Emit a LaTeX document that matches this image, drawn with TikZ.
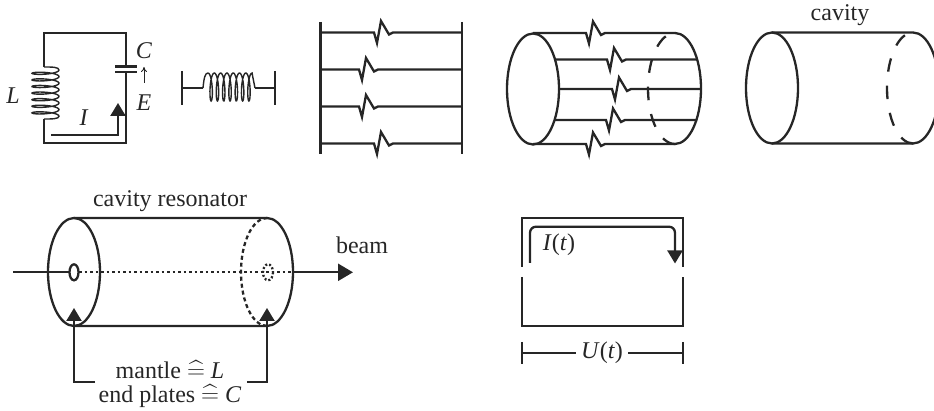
\documentclass[tikz,border=0pt]{standalone}
\usepackage{amsmath}
\usepackage{fontspec}
\setmainfont{Liberation Serif}
\usetikzlibrary{arrows.meta}
\tikzset{
  wire/.style={line width=2.3pt,draw=black!85},
  thinwire/.style={line width=1.4pt,draw=black!85},
  beamline/.style={wire,-{Triangle[length=15pt,width=17pt]}},
  probe/.style={wire,-{Triangle[length=13pt,width=15pt]}},
  label/.style={font=\fontsize{24}{28}\selectfont,inner sep=0pt,text=black!85},
}
% one broken wire: row y, kink starting at x, from x1 to x2
\newcommand{\brokenwire}[4]{%
  \draw[wire,line join=miter] (#2,#1) -- (#3,#1) -- ++(3,10.5) -- ++(4,-22) -- ++(8,13.5) -- ++(4,-2) -- (#4,#1);}
\newcommand{\corresponds}{\smash{$\mathrel{\widehat{=}}$}}
\begin{document}
\begin{tikzpicture}[x=1pt,y=-1pt]
  \useasboundingbox (0,0) rectangle (934,411);
  % LC circuit
  \draw[wire] (44,67) -- (44,33) -- (126,33) -- (126,66);
  \draw[wire] (126,72) -- (126,143) -- (44,143) -- (44,119);
  \draw[thinwire] (44,67) .. controls (52,67) and (59,67) .. (59,70)
    plot[domain=0:2520,samples=170] ({45.5+13.5*cos(\x)},{70+\x/360*6.6+2.5*sin(\x)})
    .. controls (59,119) and (52,119) .. (44,119);
  \draw[wire] (115,66.5) -- (137,66.5);
  \draw[wire] (115,71.7) -- (137,71.7);
  \draw[line width=1pt,draw=black!85,-{To[length=5pt,width=6pt]}] (144,83) -- (144,67);
  \draw[probe] (51,135) -- (118,135) -- (118,103);
  \node[label] (lblC) at (144,51) {\textit{C}};
  \node[label] (lblE) at (144,103) {\textit{E}};
  \node[label] (lblL) at (13,96) {\textit{L}};
  \node[label] (lblI) at (84,118) {\textit{I}};
  % unrolled coil
  \draw[wire] (182,71) -- (182,105);
  \draw[wire] (275,71) -- (275,105);
  \draw[wire] (182,88) -- (203,88);
  \draw[wire] (255,88) -- (275,88);
  \draw[thinwire] (203,88) .. controls (204,78) and (205,73) .. (208,73)
    plot[domain=0:2520,samples=170] ({208+\x/360*6.3+2.6*sin(\x)},{87-14*cos(\x)})
    .. controls (252,73) and (253,78) .. (255,88);
  % four broken wires
  \draw[wire] (320.5,22) -- (320.5,154);
  \draw[wire] (462,22) -- (462,154);
  \brokenwire{32.5}{320.5}{374}{462}
  \brokenwire{69.5}{320.5}{359}{462}
  \brokenwire{106.5}{320.5}{359}{462}
  \brokenwire{143.5}{320.5}{374}{462}
  % wires on a cylinder
  \brokenwire{33}{533}{586}{675}
  \brokenwire{59.5}{555}{607}{697}
  \brokenwire{89}{559}{612}{701}
  \brokenwire{120}{555}{606}{697}
  \brokenwire{144}{533}{586}{675}
  \draw[wire] (533,89) ellipse (26 and 55.5);
  \draw[wire] (675,33) arc (-90:90:26 and 55.5);
  \draw[wire,dash pattern=on 13.5pt off 14pt] (675,144) arc (90:270:27 and 55.5);
  % cavity
  \node[label] (lblCavity) at (840,15) {cavity};
  \draw[wire] (772,88) ellipse (26 and 55.5);
  \draw[wire] (772,32.5) -- (913,32.5) arc (-90:90:26 and 55.5) -- (772,143.5);
  \draw[wire,dash pattern=on 13.5pt off 14pt] (913,143.5) arc (90:270:26 and 55.5);
  % cavity resonator
  \node[label] (lblResonator) at (170,201) {cavity resonator};
  \node[label] (lblBeam) at (362,245) {beam};
  \node[label] (lblMantle) at (170,370) {mantle \corresponds{} \textit{L}};
  \node[label] (lblPlates) at (170,397) {end plates \corresponds{} \textit{C}};
  \draw[wire] (74,272) ellipse (26 and 54);
  \draw[wire] (74,218) -- (267,218) arc (-90:90:26 and 54) -- (74,326);
  \draw[wire,dash pattern=on 4pt off 3pt] (267,326) arc (90:270:26 and 54);
  \draw[wire] (13,272.3) -- (69.5,272.3);
  \draw[wire] (74,272.3) ellipse (4.5 and 8);
  \draw[wire,dash pattern=on 2.5pt off 3pt] (79,272.3) -- (293,272.3);
  \draw[wire,dash pattern=on 2pt off 2pt] (268,272.3) ellipse (5 and 8);
  \draw[beamline] (293,272.3) -- (353,272.3);
  \draw[probe] (95,382) -- (74,382) -- (74,308);
  \draw[probe] (247,382) -- (267,382) -- (267,308);
  % equivalent loop
  \draw[wire] (522,267) -- (522,218) -- (683,218) -- (683,267);
  \draw[wire] (522,277) -- (522,326) -- (683,326) -- (683,277);
  \draw[probe,rounded corners=6pt] (530,263) -- (530,226.7) -- (675,226.7) -- (675,263.5);
  \node[label] (lblIt) at (559,245) {\textit{I}(\textit{t})};
  \node[label,inner xsep=5pt] (lblUt) at (602,353) {\textit{U}(\textit{t})};
  \draw[wire] (522,342) -- (522,364);
  \draw[wire] (683,342) -- (683,364);
  \draw[wire] (522,353) -- (lblUt.west);
  \draw[wire] (lblUt.east) -- (683,353);
\end{tikzpicture}
\end{document}
